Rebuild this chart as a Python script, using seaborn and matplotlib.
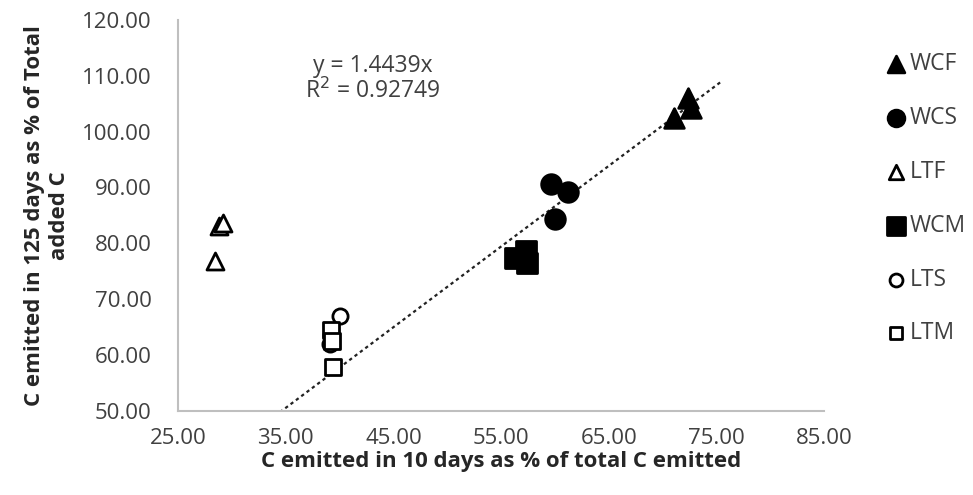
import matplotlib
matplotlib.use("Agg")
import matplotlib.pyplot as plt
import seaborn as sns
import numpy as np
import pandas as pd

# Data
groups = ["WCF", "WCS", "LTF", "WCM", "LTS", "LTM"]
wcf_x = [71.05, 72.35, 72.6]
wcf_y = [102.4, 106.0, 104.2]
wcs_x = [59.6, 61.2, 60.0]
wcs_y = [90.6, 89.1, 84.3]
ltf_x = [28.8, 29.2, 28.4]
ltf_y = [83.0, 83.6, 76.9]
wcm_x = [56.3, 57.3, 57.4]
wcm_y = [77.3, 78.7, 76.4]
lts_x = [40.0, 39.2, 39.1]
lts_y = [67.0, 63.5, 62.0]
ltm_x = [39.2, 39.3, 39.4]
ltm_y = [64.5, 62.5, 57.8]
slope = 1.4439
eq_text = "y = 1.4439x"
r2_text = "R$^2$ = 0.92749"
xticks = [25, 35, 45, 55, 65, 75, 85]
yticks = [50, 60, 70, 80, 90, 100, 110, 120]

xs = [wcf_x, wcs_x, ltf_x, wcm_x, lts_x, ltm_x]
ys = [wcf_y, wcs_y, ltf_y, wcm_y, lts_y, ltm_y]
frames = []
for g, gx, gy in zip(groups, xs, ys):
    frames.append(pd.DataFrame({"x": gx, "y": gy, "group": g}))
df = pd.concat(frames, ignore_index=True)

markers = {"WCF": "^", "WCS": "o", "LTF": "^", "WCM": "s", "LTS": "o", "LTM": "s"}
filled = {"WCF": True, "WCS": True, "LTF": False, "WCM": True, "LTS": False, "LTM": False}
sizes = {"WCF": 200, "WCS": 200, "LTF": 150, "WCM": 220, "LTS": 120, "LTM": 120}

sns.set_theme(style="white")
plt.rcParams["font.family"] = ["Open Sans", "DejaVu Sans"]

fig = plt.figure(figsize=(9.73, 4.95), dpi=100)
ax = fig.add_axes([0.183, 0.170, 0.664, 0.790])

# trendline
lx = np.array([30.0, 75.4])
ax.plot(lx, slope * lx, linestyle=(0, (1.5, 1.5)), color="#222222", linewidth=1.6, zorder=1)

for g in groups:
    sub = df[df["group"] == g]
    fc = "black" if filled[g] else "white"
    sns.scatterplot(data=sub, x="x", y="y", ax=ax, marker=markers[g], s=sizes[g],
                    color=fc, edgecolor="black", linewidth=2.0, label=g, zorder=3)

ax.set_xlim(25, 85)
ax.set_ylim(50, 120)
ax.set_xticks(xticks)
ax.set_yticks(yticks)
ax.set_xticklabels([f"{t:.2f}" for t in xticks], fontsize=16, color="#404040")
ax.set_yticklabels([f"{t:.2f}" for t in yticks], fontsize=16, color="#404040")
ax.tick_params(axis="y", length=0, pad=19)
ax.tick_params(axis="x", length=0, pad=12)
for s in ["top", "right"]:
    ax.spines[s].set_visible(False)
for s in ["left", "bottom"]:
    ax.spines[s].set_color("#bfbfbf")
    ax.spines[s].set_linewidth(1.5)

ax.set_xlabel("C emitted in 10 days as % of total C emitted", fontsize=16,
              fontweight="bold", color="#262626", labelpad=2)
ax.set_ylabel("C emitted in 125 days as % of Total\nadded C", fontsize=16,
              fontweight="bold", color="#262626", labelpad=9, linespacing=1.25)

ax.text(43.05, 111.65, eq_text, ha="center", va="center", fontsize=16.5, color="#404040")
ax.text(43.05, 107.15, r2_text, ha="center", va="center", fontsize=16.5, color="#404040")

leg = ax.legend(loc="upper left", bbox_to_anchor=(0.909, 0.894), bbox_transform=fig.transFigure,
                frameon=False, fontsize=16.5, labelspacing=1.3, handletextpad=0.1,
                handlelength=1.0, borderpad=0, borderaxespad=0, markerscale=0.85)
for t in leg.get_texts():
    t.set_color("#404040")

fig.savefig("out.png", dpi=100)
